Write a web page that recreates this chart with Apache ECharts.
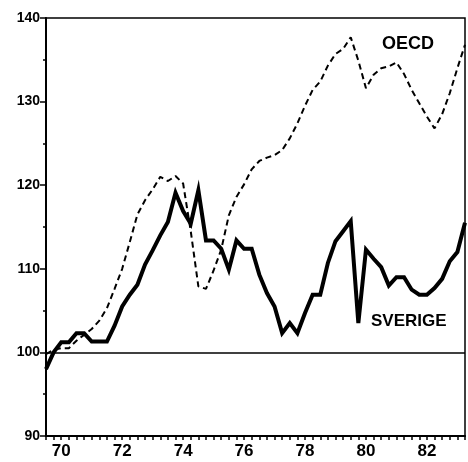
<!DOCTYPE html>
<html>
<head>
<meta charset="utf-8">
<script src="https://cdn.jsdelivr.net/npm/echarts@6/dist/echarts.min.js"></script>
<style>
  html, body { margin: 0; padding: 0; background: #fff; }
  #main { width: 468px; height: 462px; }
</style>
</head>
<body>
<div id="main"></div>
<script>
// kvartal, 1969 Q3 - 1983 Q3
var quarters = [];
for (var q = 0; q < 56; q++) { quarters.push(69.5 + q * 0.25); }

var sverige = [98, 100, 101.2, 101.2, 102.3, 102.3, 101.3, 101.3, 101.3, 103.2,
  105.5, 106.9, 108.1, 110.5, 112.2, 114.0, 115.6, 119.1, 116.9, 115.4,
  119.4, 113.4, 113.4, 112.4, 109.9, 113.4, 112.4, 112.4, 109.3, 107.1,
  105.5, 102.3, 103.5, 102.3, 104.7, 106.9, 106.9, 110.7, 113.3, 114.5,
  115.7, 103.5, 112.3, 111.2, 110.2, 108.0, 109.0, 109.0, 107.5, 106.9,
  106.9, 107.7, 108.8, 110.9, 112.0, 115.5];

var oecd = [99.8, 100.3, 100.5, 100.5, 101.4, 102.1, 102.8, 103.8, 105.3, 107.6,
  110.0, 113.2, 116.5, 118.2, 119.5, 121.0, 120.5, 121.1, 120.2, 114.5,
  107.9, 107.6, 109.8, 112.3, 116.4, 118.6, 120.1, 121.9, 122.9, 123.3,
  123.6, 124.2, 125.6, 127.4, 129.5, 131.4, 132.4, 134.3, 135.7, 136.3,
  137.7, 134.9, 131.6, 133.2, 134.0, 134.2, 134.7, 133.3, 131.4, 129.8,
  128.2, 126.8, 128.5, 131.0, 134.0, 136.8];

var yTicks = [90, 100, 110, 120, 130, 140];

function pairs(vals) {
  return vals.map(function (v, i) { return [quarters[i], v]; });
}

var font = '"Liberation Sans", Arial, sans-serif';
var myChart = echarts.init(document.getElementById('main'));

var option = {
  animation: false,
  backgroundColor: '#fff',
  grid: {
    left: 46, right: 2, top: 18, bottom: 26,
    show: true, borderColor: '#000', borderWidth: 1.5
  },
  xAxis: {
    type: 'value',
    min: 69.5, max: 83.25, interval: 0.25,
    axisLine: { show: true, onZero: false, lineStyle: { color: '#000', width: 2 } },
    axisTick: { show: true, length: 4, lineStyle: { color: '#000', width: 1.5 } },
    splitLine: { show: false },
    axisLabel: {
      color: '#000', fontFamily: font, fontWeight: 'bold', fontSize: 17, margin: 7,
      formatter: function (v) {
        var r = Math.round(v);
        return (Math.abs(v - r) < 1e-6 && r % 2 === 0) ? String(r) : '';
      }
    }
  },
  yAxis: {
    type: 'value',
    min: yTicks[0], max: yTicks[yTicks.length - 1], interval: 10,
    axisLine: { show: true, onZero: false, lineStyle: { color: '#000', width: 2 } },
    axisTick: { show: true, length: 6, lineStyle: { color: '#000', width: 1.5 } },
    minorTick: { show: true, splitNumber: 2, length: 3, lineStyle: { color: '#000', width: 1.5 } },
    splitLine: { show: false },
    axisLabel: { color: '#000', fontFamily: font, fontWeight: 'bold', fontSize: 14, margin: 6 }
  },
  series: [
    {
      name: 'OECD',
      type: 'line',
      data: pairs(oecd),
      symbol: 'none',
      lineStyle: { color: '#000', width: 2, type: [6, 4] },
      z: 3
    },
    {
      name: 'SVERIGE',
      type: 'line',
      data: pairs(sverige),
      symbol: 'none',
      lineStyle: { color: '#000', width: 4, join: 'miter' },
      z: 4,
      markLine: {
        silent: true,
        symbol: 'none',
        label: { show: false },
        lineStyle: { color: '#000', width: 1.5, type: 'solid' },
        data: [{ yAxis: 100 }]
      }
    }
  ],
  graphic: [
    {
      type: 'text', left: 382, top: 35,
      style: { text: 'OECD', font: 'bold 18px ' + font, fill: '#000' }
    },
    {
      type: 'text', left: 371, top: 313,
      style: { text: 'SVERIGE', font: 'bold 17px ' + font, fill: '#000' }
    }
  ]
};

myChart.setOption(option);
</script>
</body>
</html>
